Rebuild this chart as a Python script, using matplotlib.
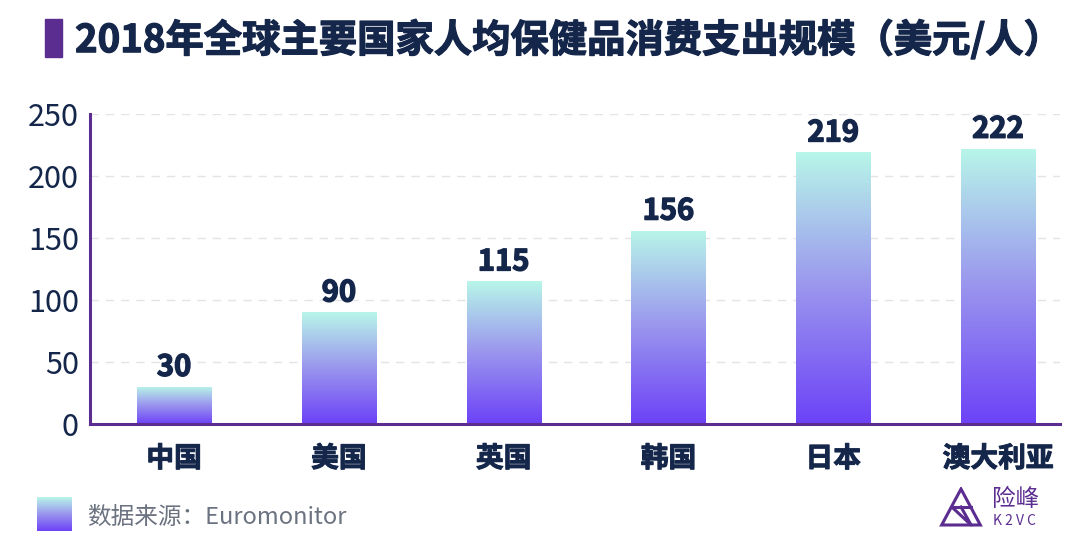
import matplotlib
matplotlib.use("Agg")
import matplotlib.pyplot as plt
import matplotlib.patheffects as pe
import numpy as np
from matplotlib.colors import LinearSegmentedColormap
from matplotlib.patches import Rectangle, Polygon

plt.rcParams['font.family'] = ['Noto Sans CJK SC', 'DejaVu Sans']

categories = ['中国', '美国', '英国', '韩国', '日本', '澳大利亚']
values = [30, 90, 115, 156, 219, 222]
yticks = [0, 50, 100, 150, 200, 250]
title = '2018年全球主要国家人均保健品消费支出规模（美元/人）'
source = '数据来源：Euromonitor'

navy = '#14264a'
purple = '#5b2d91'
top_c = '#b8f6e9'
bot_c = '#6c42f7'
cmap = LinearSegmentedColormap.from_list('g', [bot_c, '#9a95ee', top_c])
heavy = [pe.withStroke(linewidth=0.7, foreground=navy)]

fig = plt.figure(figsize=(10.8, 5.59), dpi=100)
ax = fig.add_axes([90/1080, 1-424/559, 970/1080, 310/559])

x = np.arange(len(categories))
bw = 0.45
grad = np.linspace(0, 1, 256).reshape(-1, 1)
bars = ax.bar(x, values, width=bw, color='none', zorder=2)
for b, v in zip(bars, values):
    x0 = b.get_x()
    im = ax.imshow(grad, cmap=cmap, origin='lower', aspect='auto',
                   extent=[x0, x0 + bw, 0, v], zorder=2, interpolation='bilinear')
    im.set_clip_path(b)
    ax.text(b.get_x() + bw/2, v + 4, str(v), ha='center', va='bottom',
            fontsize=21, fontweight='bold', color=navy, zorder=3,
            path_effects=[pe.withStroke(linewidth=1.0, foreground=navy)])

ax.set_xlim(-0.51, 5.376)
ax.set_ylim(0, 250)
ax.set_yticks(yticks)
ax.set_yticklabels([str(t) for t in yticks], fontsize=22, color=navy)
ax.set_xticks(x)
ax.set_xticklabels(categories, fontsize=20, fontweight='bold', color=navy)
for t in ax.get_xticklabels():
    t.set_path_effects(heavy)
ax.tick_params(axis='both', length=0)
ax.tick_params(axis='x', pad=15)
ax.tick_params(axis='y', pad=8)
ax.yaxis.grid(True, linestyle=(0, (6, 5)), color='#e3e3e8', linewidth=1, zorder=0)
ax.set_axisbelow(True)
for s in ['top', 'right']:
    ax.spines[s].set_visible(False)
for s in ['left', 'bottom']:
    ax.spines[s].set_color(purple)
    ax.spines[s].set_linewidth(2.2)

# title
fig.patches.append(Rectangle((45/1080, 1-57/559), 17/1080, 38/559,
                             transform=fig.transFigure, color=purple))
fig.text(75/1080, 1-40/559, title, fontsize=27.6, fontweight='bold', color=navy,
         va='center', ha='left', path_effects=[pe.withStroke(linewidth=0.9, foreground=navy)])

# footer legend square with gradient
lax = fig.add_axes([37/1080, 1-531/559, 35/1080, 34/559])
lax.imshow(grad, cmap=cmap, origin='lower', aspect='auto', extent=[0, 1, 0, 1])
lax.axis('off')
fig.text(87/1080, 1-517/559, source, fontsize=17, color='#6b7280', va='center', ha='left')

# logo
gax = fig.add_axes([938/1080, 1-527/559, 46/1080, 40/559])
gax.set_xlim(0, 1); gax.set_ylim(0, 1); gax.axis('off')
gax.add_patch(Polygon([[0.08, 0.05], [0.5, 0.95], [0.92, 0.05]], closed=True,
                      fill=False, edgecolor=purple, linewidth=2.2))
gax.plot([0.3, 0.72, 0.5], [0.5, 0.05, 0.5], color=purple, linewidth=2.2)
gax.plot([0.3, 0.72], [0.5, 0.5], color=purple, linewidth=2.2)
fig.text(992/1080, 1-500/559, '险峰', fontsize=17, color=purple, va='center', ha='left')
fig.text(993/1080, 1-521/559, 'K 2 V C', fontsize=10, color=purple, va='center', ha='left')

fig.savefig('out.png', dpi=100)
